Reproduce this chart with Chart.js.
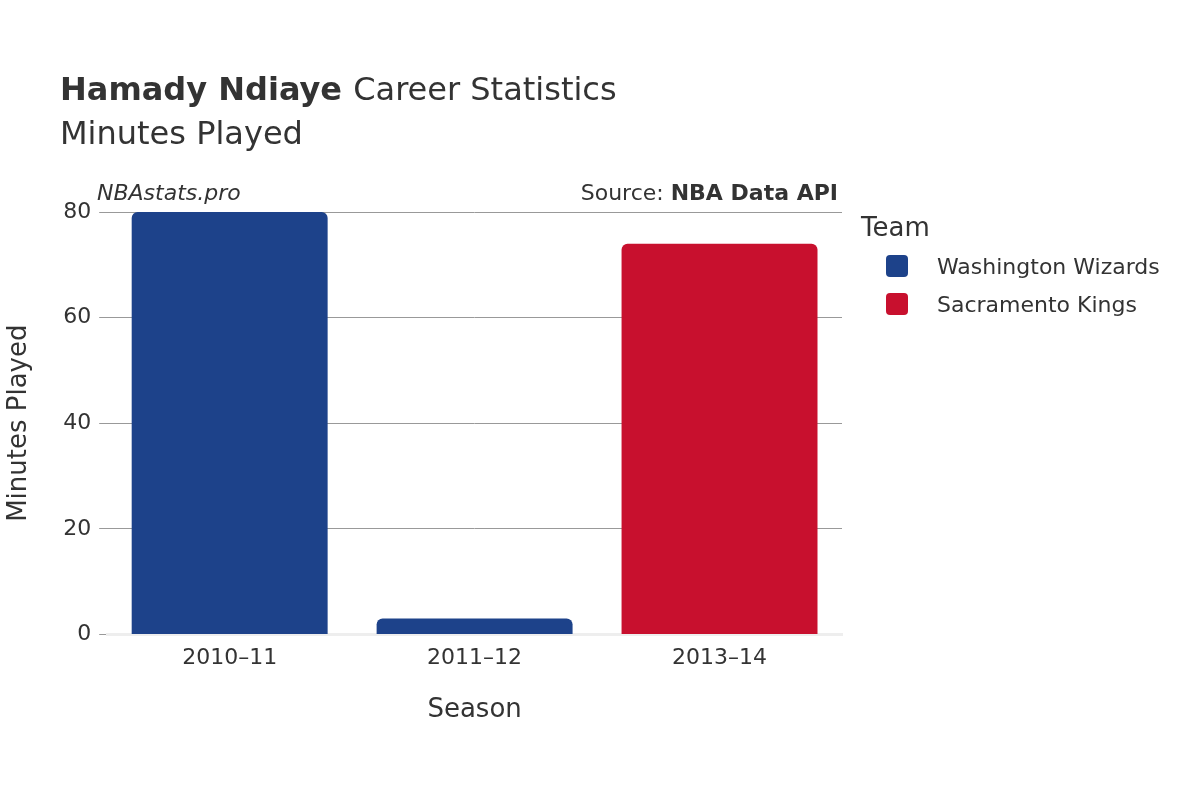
<!DOCTYPE html>
<html><head><meta charset="utf-8">
<script src="https://cdn.jsdelivr.net/npm/chart.js@4"></script>
<style>html,body{margin:0;background:#fff}#w{width:1200px;height:800px}</style>
</head><body><div id="w"><canvas id="c"></canvas></div>
<script>
const seasons = ["2010–11","2011–12","2013–14"];
const wizards = [80, 3, null];
const kings = [null, null, 74];
const yTicks = [0,20,40,60,80];
const F = "'DejaVu Sans', sans-serif";
const deco = {
  id:'deco',
  afterDraw(ch){
    const c=ch.ctx; c.save(); c.fillStyle='#333'; c.textBaseline='alphabetic';
    c.font="bold 32px "+F; c.fillText("Hamady Ndiaye",60,100);
    const w=c.measureText("Hamady Ndiaye ").width;
    c.font="32px "+F; c.fillText("Career Statistics",60+w,100);
    c.fillText("Minutes Played",60,144);
    c.font="italic 22px "+F; c.fillText("NBAstats.pro",97,200);
    c.textAlign='right'; c.font="bold 22px "+F; c.fillText("NBA Data API",838,200);
    const bw=c.measureText("NBA Data API").width;
    c.font="22px "+F; c.fillText("Source: ",838-bw,200);
    c.textAlign='left'; c.font="26px "+F; c.fillText("Team",861,236);
    c.font="22px "+F;
    [["Washington Wizards","#1d428a",266],["Sacramento Kings","#c8102e",304]].forEach(([t,col,y])=>{
      c.fillStyle=col; c.beginPath(); c.roundRect(886,y-11,22,22,4); c.fill();
      c.fillStyle='#333'; c.fillText(t,937,y+8);
    });
    c.restore();
  }
};
new Chart(document.getElementById('c'),{
  type:'bar',
  data:{labels:seasons,datasets:[
    {label:'Washington Wizards',data:wizards,backgroundColor:'#1d428a',borderRadius:6,borderSkipped:'bottom'},
    {label:'Sacramento Kings',data:kings,backgroundColor:'#c8102e',borderRadius:6,borderSkipped:'bottom'}]},
  options:{responsive:true,maintainAspectRatio:false,animation:false,
    layout:{padding:{top:212,right:358,bottom:70,left:0}},
    datasets:{bar:{categoryPercentage:0.8,barPercentage:1}},
    plugins:{legend:{display:false},tooltip:{enabled:false}},
    scales:{
      x:{stacked:true,grid:{display:false},border:{color:'#eee',width:3},
        ticks:{color:'#333',font:{family:F,size:22}},
        title:{display:true,text:'Season',color:'#333',font:{family:F,size:26},padding:{top:20}}},
      y:{stacked:true,min:0,max:80,afterBuildTicks:a=>{a.ticks=yTicks.map(v=>({value:v}))},
        grid:{color:'#999'},border:{display:false},
        ticks:{color:'#333',font:{family:F,size:22},padding:8},
        title:{display:true,text:'Minutes Played',color:'#333',font:{family:F,size:26},padding:{bottom:20}}}
    }},
  plugins:[deco]
});
</script></body></html>
